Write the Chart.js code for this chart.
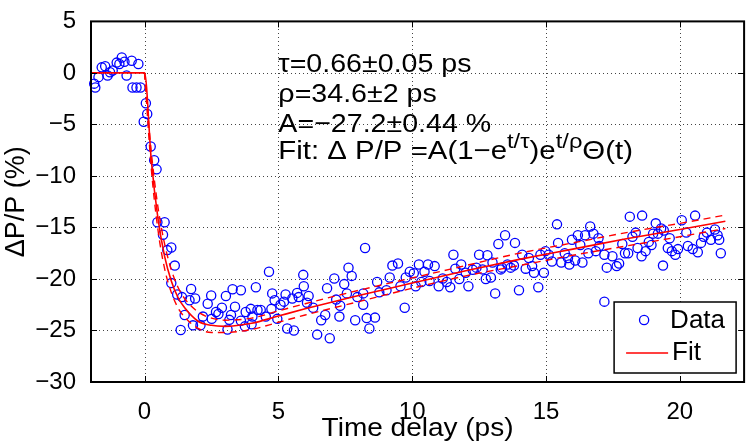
<!DOCTYPE html>
<html>
<head>
<meta charset="utf-8">
<script src="https://cdn.jsdelivr.net/npm/chart.js@4.4.0/dist/chart.umd.min.js"></script>
<style>
  html, body { margin: 0; padding: 0; background: #fff; }
  #wrap { width: 750px; height: 447px; }
</style>
</head>
<body>
<div id="wrap"><canvas id="chart" width="750" height="447"></canvas></div>
<script>
// measured points (time delay in ps, dP/P in %)
const dataT = [
  -1.88, -1.84, -1.72, -1.6, -1.47, -1.38, -1.29, -1.19, -1.04, -0.94,
  -0.85, -0.75, -0.67, -0.48, -0.45, -0.3, -0.23, -0.15, -0.03, 0.05,
  0.1, 0.23, 0.36, 0.45, 0.48, 0.69, 0.75, 0.85, 1.0, 1.0,
  1.13, 1.22, 1.35, 1.4, 1.5, 1.68, 1.74, 1.81, 1.89, 2.09,
  2.18, 2.36, 2.49, 2.51, 2.67, 2.76, 2.89, 3.04, 3.1, 3.17,
  3.23, 3.29, 3.38, 3.6, 3.6, 3.75, 3.78, 3.97, 4.0, 4.03,
  4.16, 4.22, 4.34, 4.53, 4.65, 4.74, 4.77, 4.86, 4.96, 5.08,
  5.21, 5.27, 5.33, 5.52, 5.58, 5.7, 5.76, 5.93, 5.95, 6.07,
  6.13, 6.3, 6.45, 6.6, 6.75, 6.82, 6.92, 7.09, 7.16, 7.28,
  7.31, 7.46, 7.56, 7.62, 7.74, 7.87, 7.95, 8.17, 8.17, 8.24,
  8.3, 8.4, 8.61, 8.69, 8.77, 9.04, 9.16, 9.26, 9.47, 9.56,
  9.72, 9.76, 9.91, 10.06, 10.13, 10.25, 10.34, 10.46, 10.59, 10.65,
  10.84, 10.99, 11.14, 11.29, 11.42, 11.54, 11.61, 11.76, 11.83, 12.0,
  12.1, 12.26, 12.4, 12.5, 12.63, 12.75, 12.81, 12.94, 13.0, 13.1,
  13.22, 13.31, 13.35, 13.47, 13.56, 13.68, 13.8, 13.84, 13.99, 14.11,
  14.24, 14.36, 14.48, 14.55, 14.71, 14.79, 14.92, 14.98, 15.1, 15.22,
  15.41, 15.45, 15.57, 15.7, 15.82, 15.87, 15.97, 16.09, 16.19, 16.28,
  16.36, 16.46, 16.58, 16.65, 16.77, 16.86, 16.96, 16.99, 17.18, 17.18,
  17.27, 17.48, 17.64, 17.73, 17.85, 17.95, 18.07, 18.13, 18.23, 18.35,
  18.42, 18.57, 18.59, 18.72, 18.84, 18.94, 19.0, 19.1, 19.18, 19.3,
  19.37, 19.4, 19.55, 19.62, 19.7, 19.83, 19.93, 20.07, 20.24, 20.3,
  20.48, 20.57, 20.67, 20.79, 20.89, 21.01, 21.16, 21.31, 21.41, 21.47,
  21.53
];
const dataY = [
  -1.04, -1.42, -0.41, 0.54, 0.64, -0.25, 0.07, 0.23, 1.0, 0.86,
  1.5, 1.08, -0.25, 1.18, -1.42, -1.42, 0.86, -1.42, -4.74, -2.94,
  -3.98, -7.14, -8.47, -9.36, -14.5, -15.7, -14.5, -17.2, -16.95, -20.4,
  -18.7, -21.5, -24.95, -21.76, -23.5, -22.07, -20.97, -24.5, -21.9, -24.5,
  -23.65, -22.4, -21.6, -23.87, -23.2, -23.4, -22.8, -21.66, -24.9, -23.97,
  -23.5, -21.0, -22.7, -21.1, -24.06, -24.6, -23.2, -22.9, -24.4, -23.65,
  -20.8, -23.0, -23.0, -23.65, -19.3, -22.9, -21.4, -22.07, -23.87, -22.5,
  -22.2, -21.5, -24.8, -21.9, -25.0, -21.35, -21.76, -19.6, -20.7, -22.3,
  -21.66, -22.8, -25.4, -24.0, -23.5, -20.9, -25.75, -19.95, -22.0, -23.65,
  -22.6, -20.5, -21.4, -18.9, -19.7, -24.0, -21.76, -21.4, -22.5, -17.0,
  -23.8, -24.8, -23.75, -20.3, -21.3, -21.1, -19.86, -18.7, -18.5, -20.7,
  -22.8, -19.86, -19.3, -19.45, -20.7, -18.6, -20.3, -19.3, -18.6, -20.2,
  -18.75, -20.7, -19.95, -20.3, -20.8, -17.65, -19.0, -20.0, -18.6, -19.4,
  -20.7, -19.1, -18.9, -17.65, -19.07, -20.0, -17.7, -19.86, -18.4, -21.4,
  -16.6, -19.07, -18.9, -15.75, -18.6, -18.9, -18.7, -16.5, -21.1, -17.65,
  -19.0, -17.96, -18.75, -19.4, -20.8, -17.65, -19.4, -17.3, -17.65, -18.3,
  -14.7, -16.5, -18.4, -17.5, -17.96, -18.6, -16.2, -18.2, -15.75, -16.7,
  -18.4, -15.75, -17.5, -14.9, -15.6, -17.3, -16.05, -16.8, -17.65, -22.2,
  -18.9, -17.8, -18.75, -18.5, -16.6, -17.5, -17.5, -13.95, -15.9, -15.5,
  -17.0, -17.8, -13.85, -17.3, -16.4, -16.7, -15.6, -14.6, -15.6, -15.1,
  -18.7, -15.3, -17.0, -16.05, -17.3, -17.65, -17.1, -14.3, -15.5, -16.8,
  -17.1, -13.85, -17.4, -16.5, -15.9, -15.5, -16.2, -15.2, -15.75, -16.2,
  -17.5
];

// fit curve and its bounds
const fitT = [-2, 0, 0.25, 0.5, 0.75, 1, 1.25, 1.5, 2, 2.5, 3, 4, 5, 6, 8, 10, 12, 14, 16, 18, 20, 21.7];
const fitY = [0, 0, -8.4, -14.1, -17.8, -20.2, -21.8, -22.8, -24.1, -24.5, -24.6, -24.3, -23.6, -22.9, -21.6, -20.4, -19.2, -18.1, -17.1, -16.1, -15.2, -14.4];
const boundT = [0, 0.25, 0.5, 0.75, 1, 1.25, 1.5, 2, 2.5, 3, 4, 5, 6, 8, 10, 12, 14, 16, 18, 20, 21.7];
const upperY = [0, -7.6, -13.0, -16.6, -19.1, -20.8, -21.9, -23.2, -23.8, -24.0, -23.8, -23.1, -22.4, -21.1, -19.9, -18.7, -17.5, -16.5, -15.5, -14.6, -13.8];
const lowerY = [0, -9.2, -15.2, -19.0, -21.3, -22.8, -23.7, -24.8, -25.2, -25.2, -24.9, -24.2, -23.5, -22.2, -20.9, -19.7, -18.7, -17.7, -16.8, -15.9, -15.1];

const xTicks = [0, 5, 10, 15, 20];
const yTicks = [5, 0, -5, -10, -15, -20, -25, -30];

const textLines = ['τ=0.66±0.05 ps', 'ρ=34.6±2 ps', 'A=−27.2±0.44 %'];
const xTitle = 'Time delay (ps)';

const FONT = "'Liberation Sans', Arial, Helvetica, sans-serif";
const BLUE = '#0000ff';
const RED = '#ff0000';

function toPoints(xs, ys) {
    return xs.map((x, i) => ({ x: x, y: ys[i] }));
}

// dotted grid under the data
const gridPlugin = {
    id: 'dotgrid',
    beforeDatasetsDraw(chart) {
        const ctx = chart.ctx;
        const a = chart.chartArea;
        const xs = chart.scales.x;
        const ys = chart.scales.y;
        ctx.save();
        ctx.strokeStyle = '#444';
        ctx.lineWidth = 1;
        ctx.setLineDash([1, 3]);
        ctx.beginPath();
        xTicks.forEach(v => {
            const px = Math.round(xs.getPixelForValue(v)) + 0.5;
            ctx.moveTo(px, a.bottom); ctx.lineTo(px, a.top);
        });
        yTicks.forEach(v => {
            const py = Math.round(ys.getPixelForValue(v)) + 0.5;
            ctx.moveTo(a.left, py); ctx.lineTo(a.right, py);
        });
        ctx.stroke();
        ctx.restore();
    }
};

// box, inward tick marks, x title, fit text and legend
const decorPlugin = {
    id: 'decor',
    afterDraw(chart) {
        const ctx = chart.ctx;
        const a = chart.chartArea;
        const xs = chart.scales.x;
        const ys = chart.scales.y;
        ctx.save();

        ctx.strokeStyle = '#000';
        ctx.lineWidth = 1;
        ctx.beginPath();
        xTicks.forEach(v => {
            const px = Math.round(xs.getPixelForValue(v)) + 0.5;
            ctx.moveTo(px, a.bottom); ctx.lineTo(px, a.bottom - 6);
            ctx.moveTo(px, a.top); ctx.lineTo(px, a.top + 6);
        });
        yTicks.forEach(v => {
            const py = Math.round(ys.getPixelForValue(v)) + 0.5;
            ctx.moveTo(a.left, py); ctx.lineTo(a.left + 6, py);
            ctx.moveTo(a.right, py); ctx.lineTo(a.right - 6, py);
        });
        ctx.stroke();

        ctx.lineWidth = 2;
        ctx.strokeRect(a.left, a.top, a.right - a.left, a.bottom - a.top);

        // x axis title (the figure's text runs a bit wide)
        ctx.fillStyle = '#000';
        ctx.save();
        ctx.translate((a.left + a.right) / 2, a.bottom + 47);
        ctx.scale(1.12, 1);
        ctx.font = '25px ' + FONT;
        ctx.textAlign = 'center';
        ctx.textBaseline = 'middle';
        ctx.fillText(xTitle, 0, 0);
        ctx.restore();

        // fit parameters
        ctx.textBaseline = 'alphabetic';
        ctx.textAlign = 'left';
        const tx = xs.getPixelForValue(5);
        const big = '26px ' + FONT;
        const small = '21px ' + FONT;
        ctx.save();
        ctx.translate(tx, 0);
        ctx.scale(1.1, 1);
        ctx.font = big;
        textLines.forEach((s, i) => ctx.fillText(s, 0, a.top + 51 + i * 30));
        ctx.restore();

        ctx.save();
        ctx.translate(tx, 0);
        ctx.scale(1.13, 1);
        let cx = 0;
        const by = a.top + 51 + 3 * 29;
        const parts = [
            ['Fit: Δ P/P =A(1−e', big, 0],
            ['t/τ', small, -11],
            [')e', big, 0],
            ['t/ρ', small, -11],
            ['Θ(t)', big, 0]
        ];
        parts.forEach(p => {
            ctx.font = p[1];
            ctx.fillText(p[0], cx, by + p[2]);
            cx += ctx.measureText(p[0]).width;
        });
        ctx.restore();

        // legend
        const lw = 122, lh = 71;
        const lx = a.right - 8 - lw;
        const ly = a.bottom - 9 - lh;
        ctx.fillStyle = '#fff';
        ctx.fillRect(lx, ly, lw, lh);
        ctx.lineWidth = 1.5;
        ctx.strokeStyle = '#000';
        ctx.strokeRect(lx, ly, lw, lh);

        ctx.strokeStyle = BLUE;
        ctx.lineWidth = 1.3;
        ctx.beginPath();
        ctx.arc(lx + 30, ly + 18, 4.6, 0, Math.PI * 2);
        ctx.stroke();

        ctx.strokeStyle = RED;
        ctx.lineWidth = 1.5;
        ctx.beginPath();
        ctx.moveTo(lx + 12, ly + 51);
        ctx.lineTo(lx + 54, ly + 51);
        ctx.stroke();

        ctx.fillStyle = '#000';
        ctx.font = '26px ' + FONT;
        ctx.textBaseline = 'middle';
        ctx.fillText('Data', lx + 56, ly + 19);
        ctx.fillText('Fit', lx + 58, ly + 51);

        ctx.restore();
    }
};

const ctx = document.getElementById('chart').getContext('2d');

const chart = new Chart(ctx, {
    type: 'scatter',
    data: {
        datasets: [
            {
                label: 'Data',
                data: toPoints(dataT, dataY),
                showLine: false,
                pointStyle: 'circle',
                pointRadius: 4.6,
                pointBorderWidth: 1.3,
                pointBorderColor: BLUE,
                pointBackgroundColor: 'rgba(0,0,0,0)',
                clip: false,
                order: 2
            },
            {
                label: 'Fit',
                data: toPoints(fitT, fitY),
                showLine: true,
                borderColor: RED,
                borderWidth: 1.6,
                pointRadius: 0,
                cubicInterpolationMode: 'monotone',
                order: 1
            },
            {
                label: 'upper',
                data: toPoints(boundT, upperY),
                showLine: true,
                borderColor: RED,
                borderWidth: 1.4,
                borderDash: [7, 5],
                pointRadius: 0,
                cubicInterpolationMode: 'monotone',
                order: 1
            },
            {
                label: 'lower',
                data: toPoints(boundT, lowerY),
                showLine: true,
                borderColor: RED,
                borderWidth: 1.4,
                borderDash: [7, 5],
                pointRadius: 0,
                cubicInterpolationMode: 'monotone',
                order: 1
            }
        ]
    },
    options: {
        responsive: false,
        animation: false,
        devicePixelRatio: 1,
        layout: { padding: { top: 13, right: 3, left: 0, bottom: 0 } },
        plugins: {
            legend: { display: false },
            tooltip: { enabled: false }
        },
        scales: {
            x: {
                type: 'linear',
                min: -2,
                max: 22.4,
                afterBuildTicks: scale => { scale.ticks = xTicks.map(v => ({ value: v })); },
                afterFit: scale => { scale.height = 65; },
                ticks: {
                    color: '#000',
                    padding: 8,
                    font: { family: FONT, size: 24 }
                },
                grid: { display: false },
                border: { display: false },
                title: { display: false }
            },
            y: {
                type: 'linear',
                min: -30,
                max: 5,
                afterBuildTicks: scale => { scale.ticks = yTicks.map(v => ({ value: v })); },
                afterFit: scale => { scale.width = 91; },
                ticks: {
                    color: '#000',
                    padding: 7,
                    font: { family: FONT, size: 24 },
                    callback: v => String(v).replace('-', '−')
                },
                grid: { display: false },
                border: { display: false },
                title: {
                    display: true,
                    text: 'ΔP/P (%)',
                    color: '#000',
                    font: { family: FONT, size: 27 },
                    padding: 0
                }
            }
        }
    },
    plugins: [gridPlugin, decorPlugin]
});
</script>
</body>
</html>
